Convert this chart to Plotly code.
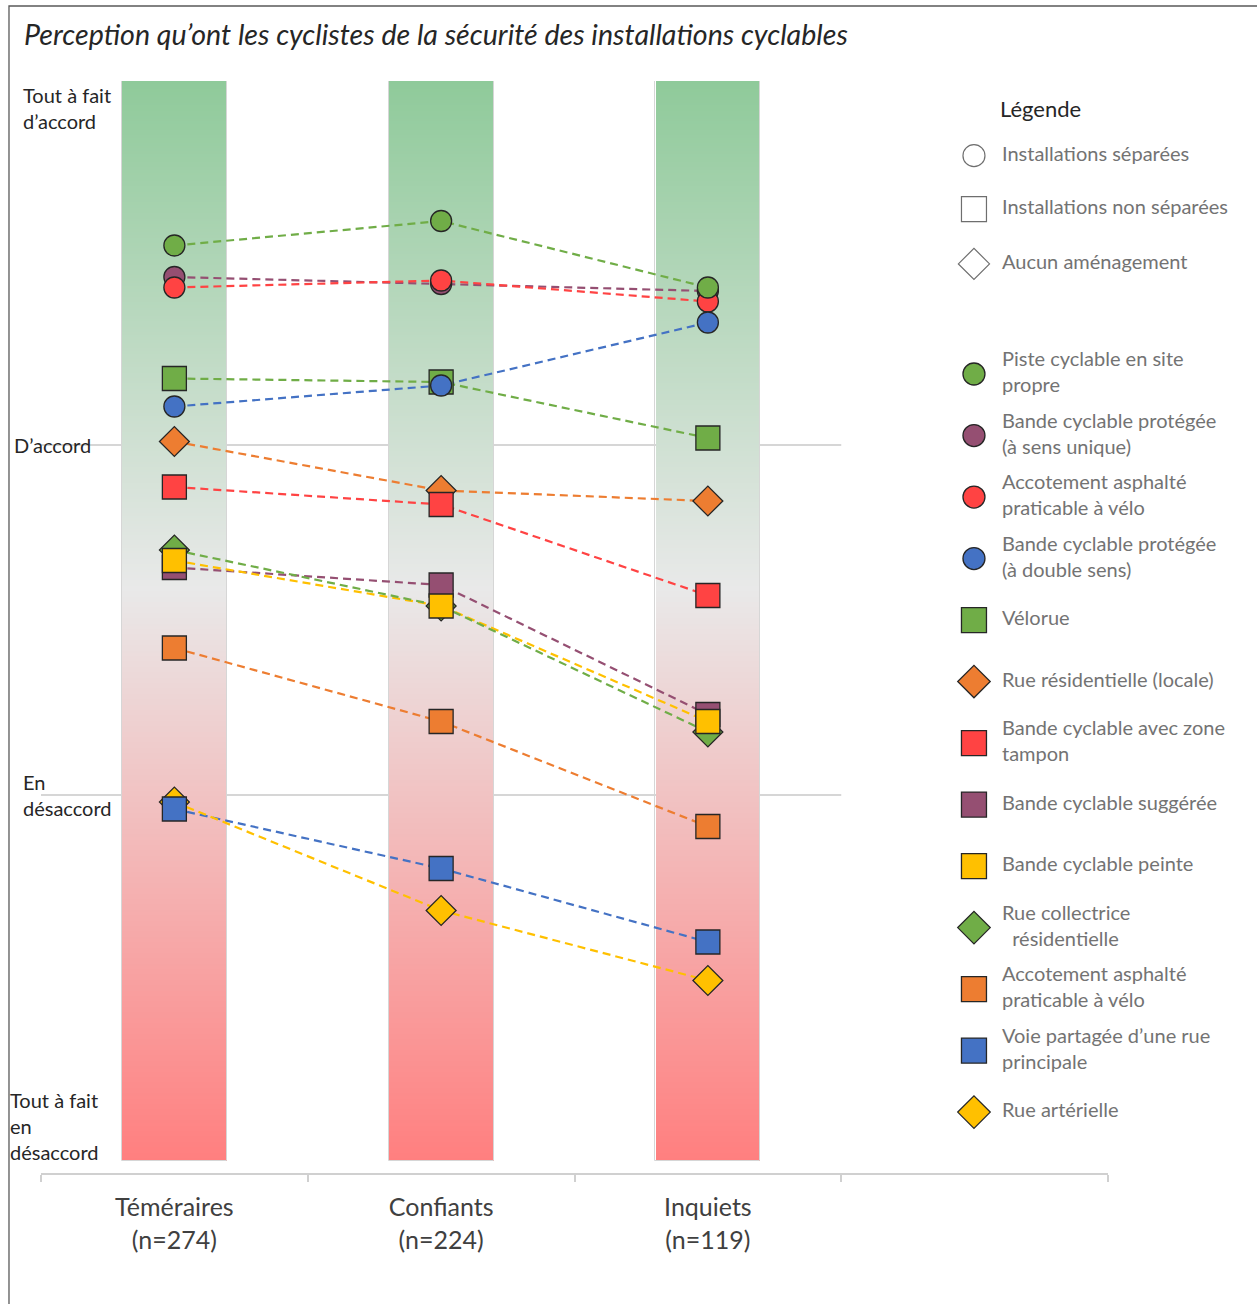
import numpy as np
import plotly.graph_objects as go

# ---------------------------------------------------------------------------
# Data: mean perceived safety (1 = tout à fait en désaccord ... 4 = tout à fait d'accord)
# ---------------------------------------------------------------------------
GROUPS = ["Téméraires", "Confiants", "Inquiets"]
SAMPLE_N = [274, 224, 119]

SERIES_NAMES = [
    "Piste cyclable en site<br>propre",
    "Bande cyclable protégée<br>(à sens unique)",
    "Accotement asphalté<br>praticable à vélo",
    "Bande cyclable protégée<br>(à double sens)",
    "Vélorue",
    "Rue résidentielle (locale)",
    "Bande cyclable avec zone<br>tampon",
    "Bande cyclable suggérée",
    "Bande cyclable peinte",
    "Rue collectrice<br>\u00a0\u00a0résidentielle",
    "Accotement asphalté<br>praticable à vélo",
    "Voie partagée d’une rue<br>principale",
    "Rue artérielle",
]
SERIES_SYMBOLS = ["circle", "circle", "circle", "circle", "square", "diamond",
                  "square", "square", "square", "diamond", "square", "square", "diamond"]
SERIES_COLORS = ["#70AD47", "#954F72", "#FF4343", "#4472C4", "#70AD47", "#ED7D31",
                 "#FF4343", "#954F72", "#FFC000", "#70AD47", "#ED7D31", "#4472C4", "#FFC000"]

TEMERAIRES = [3.57, 3.48, 3.45, 3.11, 3.19, 3.01, 2.88, 2.65, 2.67, 2.70, 2.42, 1.96, 1.98]
CONFIANTS = [3.64, 3.46, 3.47, 3.17, 3.18, 2.87, 2.83, 2.60, 2.54, 2.54, 2.21, 1.79, 1.67]
INQUIETS = [3.45, 3.44, 3.41, 3.35, 3.02, 2.84, 2.57, 2.23, 2.21, 2.18, 1.91, 1.58, 1.47]

# stacking order of the markers (diamonds, then squares, then circles)
DRAW_ORDER = [5, 9, 12, 4, 6, 7, 8, 10, 11, 1, 2, 0, 3]

# Likert levels and their labels
LEVELS = [4, 3, 2, 1]
LEVEL_LABELS = ["Tout à fait<br>d’accord", "D’accord", "En<br>désaccord",
                "Tout à fait<br>en<br>désaccord"]

# facility-type key
TYPE_LABELS = ["Installations séparées", "Installations non séparées", "Aucun aménagement"]
TYPE_SYMBOLS = ["circle", "square", "diamond"]

TITLE = "Perception qu’ont les cyclistes de la sécurité des installations cyclables"

# ---------------------------------------------------------------------------
FONT = "Lato"
Y_BOTTOM, Y_TOP = 0.92, 4.04       # value axis range
BAND_LO, BAND_HI = 0.955, 4.04     # extent of the coloured bands
BAND_SCALE = [[0.0, "#FF7F7F"], [0.53, "#E9E9E9"], [1.0, "#8FCA9A"]]

CATS = [f"{g}<br>(n={n})" for g, n in zip(GROUPS, SAMPLE_N)]
BLANK_CAT = " "
SYMBOL_SIZE = {"circle": 21, "square": 24, "diamond": 23}

fig = go.Figure()

# gradient bands behind each group
edges = np.linspace(BAND_LO, BAND_HI, 401)
mids = (edges[:-1] + edges[1:]) / 2
fig.add_trace(go.Heatmap(
    x=CATS, y=edges, z=[[m] * len(CATS) for m in mids],
    colorscale=BAND_SCALE, zmin=BAND_LO, zmax=BAND_HI,
    xgap=162, showscale=False, hoverinfo="skip",
))
fig.add_trace(go.Bar(
    x=CATS, y=[BAND_HI - BAND_LO] * len(CATS), base=BAND_LO, width=0.393,
    marker=dict(color="rgba(0,0,0,0)", line=dict(color="#D6D6D6", width=1)),
    hoverinfo="skip", showlegend=False,
))
# keeps the empty fourth slot on the category axis
fig.add_trace(go.Scatter(x=[BLANK_CAT], y=[None], mode="markers", showlegend=False,
                         hoverinfo="skip"))

values = [list(v) for v in zip(TEMERAIRES, CONFIANTS, INQUIETS)]

# dashed connectors
for i in range(len(SERIES_NAMES)):
    fig.add_trace(go.Scatter(
        x=CATS, y=values[i], mode="lines",
        line=dict(color=SERIES_COLORS[i], width=2.2, dash="8px,5px"),
        showlegend=False, hoverinfo="skip",
    ))

# markers
for i in DRAW_ORDER:
    sym = SERIES_SYMBOLS[i]
    fig.add_trace(go.Scatter(
        x=CATS, y=values[i], mode="markers",
        name=SERIES_NAMES[i].replace("<br>", " "),
        marker=dict(symbol=sym, size=SYMBOL_SIZE[sym], color=SERIES_COLORS[i], opacity=1,
                    line=dict(color="#262626", width=1.3)),
        showlegend=False,
    ))

# ---------------------------------------------------------------------------
# Key (drawn in its own small axes on the right)
# ---------------------------------------------------------------------------
TYPE_ROWS = [-3.55, -2.68, -1.79]
SERIES_ROWS = list(range(len(SERIES_NAMES)))
TITLE_ROW = -4.31

fig.add_trace(go.Scatter(
    x=[0] * len(TYPE_LABELS), y=TYPE_ROWS, mode="markers", xaxis="x2", yaxis="y2",
    marker=dict(symbol=TYPE_SYMBOLS, size=[22, 25, 24], color="white", opacity=1,
                line=dict(color="#6E6E6E", width=1.2)),
    showlegend=False, hoverinfo="skip", cliponaxis=False,
))
fig.add_trace(go.Scatter(
    x=[0] * len(SERIES_NAMES), y=SERIES_ROWS, mode="markers", xaxis="x2", yaxis="y2",
    marker=dict(symbol=SERIES_SYMBOLS, size=[22 if s == "circle" else 25 for s in SERIES_SYMBOLS],
                color=SERIES_COLORS, opacity=1, line=dict(color="#262626", width=1.3)),
    showlegend=False, hoverinfo="skip", cliponaxis=False,
))
fig.add_trace(go.Scatter(
    x=[1] * (len(TYPE_LABELS) + len(SERIES_NAMES)), y=TYPE_ROWS + SERIES_ROWS,
    text=TYPE_LABELS + SERIES_NAMES, mode="text", textposition="middle right",
    textfont=dict(family=FONT, size=20, color="#737373"),
    xaxis="x2", yaxis="y2", showlegend=False, hoverinfo="skip", cliponaxis=False,
))

annotations = [dict(
    xref="x2", yref="y2", x=0.86, y=TITLE_ROW, text="Légende", showarrow=False,
    xanchor="left", yanchor="middle", font=dict(family=FONT, size=22, color="#262626"),
)]

# level labels on the left
label_pos = [
    dict(x=-0.0185, yref="paper", y=1.0, yanchor="top"),
    dict(x=-0.0272, yref="y", y=LEVELS[1], yanchor="middle"),
    dict(x=-0.0185, yref="y", y=LEVELS[2], yanchor="middle"),
    dict(x=-0.0305, yref="y", y=BAND_LO, yanchor="bottom", yshift=-5),
]
for txt, pos in zip(LEVEL_LABELS, label_pos):
    annotations.append(dict(
        xref="paper", text=txt, showarrow=False, xanchor="left", align="left",
        font=dict(family=FONT, size=20, color="#262626"), **pos,
    ))

shapes = []
# horizontal reference lines at "D'accord" and "En désaccord"
for lv in LEVELS[1:3]:
    shapes.append(dict(type="line", xref="x", yref="y", x0=-0.6, x1=2.5, y0=lv, y1=lv,
                       line=dict(color="#C9C9C9", width=1.5), layer="below"))
# outer frame
shapes.append(dict(type="rect", xref="paper", yref="paper", x0=-0.030, x1=1.3,
                   y0=-0.3, y1=1.0687, line=dict(color="#595959", width=1.3),
                   fillcolor="rgba(0,0,0,0)", layer="below"))

fig.update_layout(
    width=1257, height=1304, autosize=False,
    margin=dict(l=41, r=149, t=81, b=131),
    paper_bgcolor="white", plot_bgcolor="white",
    font=dict(family=FONT, color="#404040"),
    showlegend=False,
    title=dict(text=TITLE, x=24 / 1257, xanchor="left", y=1 - 35 / 1304, yanchor="middle",
               font=dict(family=FONT, size=28.6, color="#262626", style="italic")),
    xaxis=dict(
        type="category", categoryorder="array", categoryarray=CATS + [BLANK_CAT],
        range=[-0.5, 3.5], showline=True, linecolor="#D0D0D0", linewidth=2,
        ticks="outside", tickson="boundaries", ticklen=7, tickwidth=2, tickcolor="#D0D0D0",
        ticklabelstandoff=11,
        showgrid=False, zeroline=False, tickfont=dict(family=FONT, size=25, color="#404040"),
    ),
    yaxis=dict(range=[Y_BOTTOM, Y_TOP], visible=False),
    xaxis2=dict(domain=[0.8594, 1.0], anchor="y2", range=[-0.571, 4.786], visible=False),
    yaxis2=dict(domain=[0.0, 1.0], anchor="x2", range=[12.99, -4.764], visible=False),
    annotations=annotations,
    shapes=shapes,
    bargap=0,
)

fig.write_html("out.html")
